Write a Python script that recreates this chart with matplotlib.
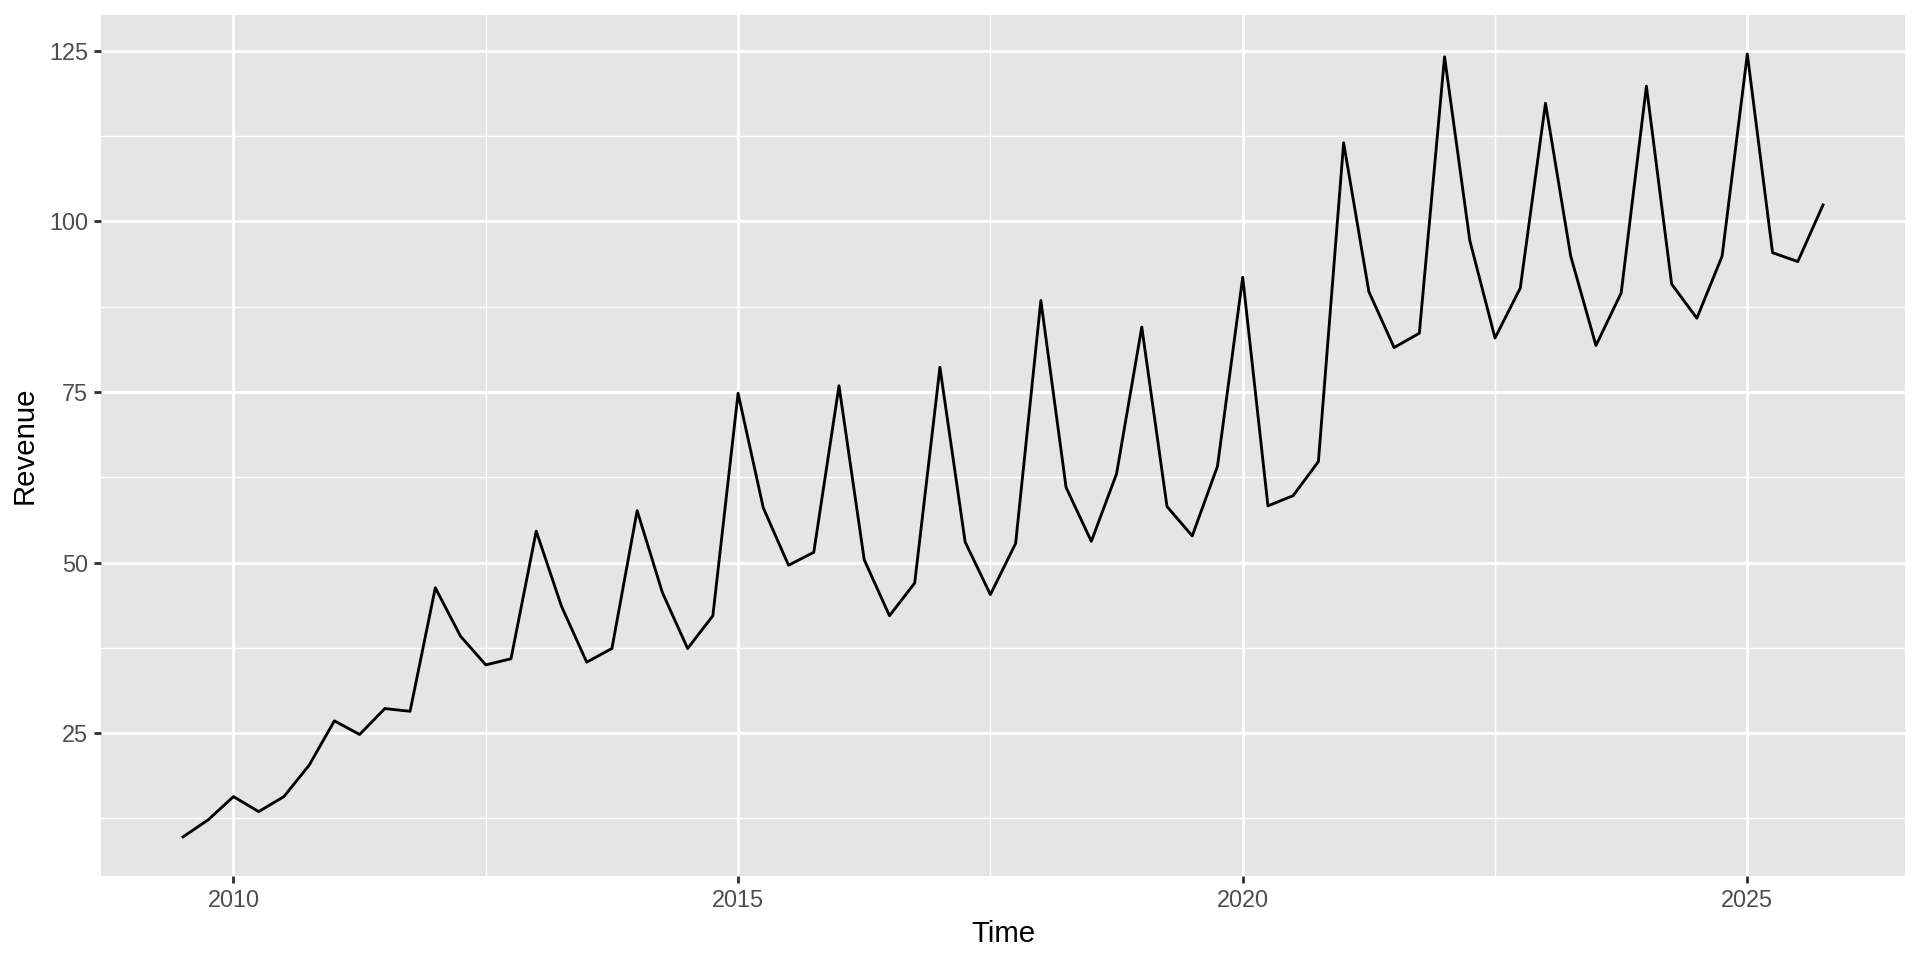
import matplotlib
matplotlib.use("Agg")
import matplotlib.pyplot as plt
import numpy as np

start_year = 2009.5
revenue = [9.8, 12.3, 15.7, 13.5, 15.7, 20.3, 26.8, 24.8, 28.6, 28.2,
           46.3, 39.2, 35.0, 35.9, 54.6, 43.6, 35.4, 37.4, 57.6, 45.6,
           37.4, 42.2, 74.8, 58.0, 49.6, 51.5, 75.9, 50.4, 42.2, 47.0,
           78.6, 53.0, 45.3, 52.8, 88.4, 61.0, 53.1, 63.0, 84.5, 58.2,
           53.9, 64.1, 91.8, 58.3, 59.8, 64.8, 111.5, 89.7, 81.5, 83.6,
           124.1, 97.2, 82.9, 90.2, 117.3, 94.9, 81.8, 89.5, 119.8, 90.8,
           85.8, 94.9, 124.5, 95.4, 94.1, 102.4]
time = [start_year + 0.25 * i for i in range(len(revenue))]

x_ticks = [2010, 2015, 2020, 2025]
x_minor = [2012.5, 2017.5, 2022.5]
y_ticks = [25, 50, 75, 100, 125]
y_minor = [12.5, 37.5, 62.5, 87.5, 112.5]

plt.rcParams['font.family'] = ['Liberation Sans', 'DejaVu Sans']

fig = plt.figure(figsize=(10, 5), dpi=192)
ax = fig.add_axes([0.0526, 0.0875, 0.9922 - 0.0526, 0.9844 - 0.0875])
ax.set_facecolor('#E5E5E5')
for s in ax.spines.values():
    s.set_visible(False)

pt = 72.27 / 25.4 * 0.75
for v in x_minor:
    ax.axvline(v, color='white', lw=0.25 * pt, zorder=0.5)
for v in y_minor:
    ax.axhline(v, color='white', lw=0.25 * pt, zorder=0.5)
for v in x_ticks:
    ax.axvline(v, color='white', lw=0.5 * pt, zorder=0.6)
for v in y_ticks:
    ax.axhline(v, color='white', lw=0.5 * pt, zorder=0.6)

ax.plot(time, revenue, color='black', lw=0.5 * pt, zorder=2)

xr = time[-1] - time[0]
ax.set_xlim(time[0] - 0.05 * xr, time[-1] + 0.05 * xr)
yr = max(revenue) - min(revenue)
ax.set_ylim(min(revenue) - 0.05 * yr, max(revenue) + 0.05 * yr)

ax.set_xticks(x_ticks)
ax.set_xticklabels([str(t) for t in x_ticks])
ax.set_yticks(y_ticks)
ax.set_yticklabels([str(t) for t in y_ticks])
ax.tick_params(axis='both', colors='#333333', length=2.75, width=0.5 * pt,
               labelsize=8.8, labelcolor='#4D4D4D', pad=2.2)

ax.set_xlabel('Time', fontsize=11, color='black', labelpad=3)
ax.set_ylabel('Revenue', fontsize=11, color='black', labelpad=4)

fig.savefig('out.png', dpi=192, facecolor='white')
